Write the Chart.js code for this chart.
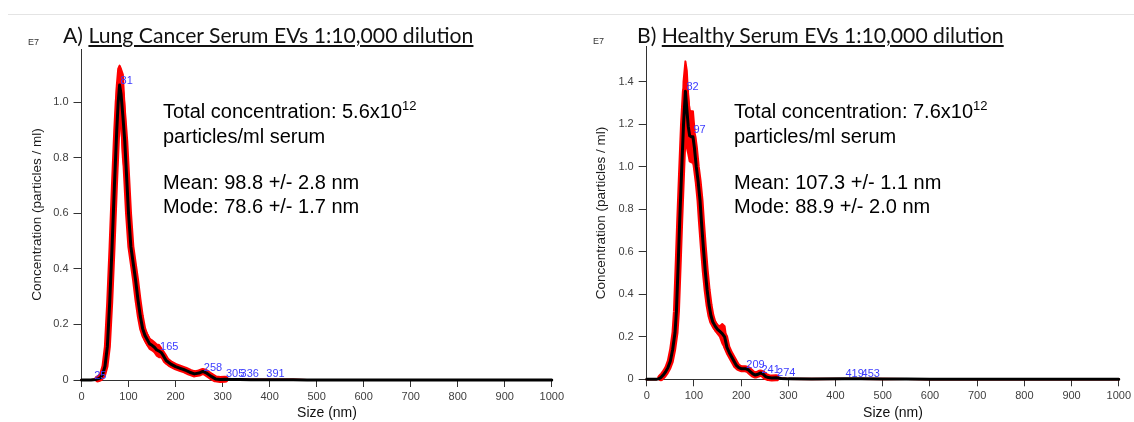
<!DOCTYPE html>
<html><head><meta charset="utf-8">
<script src="https://cdn.jsdelivr.net/npm/chart.js@4.4.1/dist/chart.umd.min.js"></script>
<style>
html,body{margin:0;padding:0;background:#fff;width:1134px;height:422px;overflow:hidden;position:relative;font-family:"Liberation Sans",Arial,sans-serif;}
.cv{position:absolute;top:0;width:567px;height:422px;}
.t{position:absolute;white-space:nowrap;color:#000;}
.ann{font-size:20px;line-height:20px;}
.ttl{font-family:Lato,"Liberation Sans",sans-serif;color:#111;line-height:1;}
.ttl span{text-decoration:underline;text-decoration-thickness:1.5px;text-underline-offset:2px;}
.e7{font-size:9px;color:#333;}
.xt{font-size:14px;color:#111;transform:translateX(-50%);}
sup{font-size:13px;vertical-align:0;position:relative;top:-8px;}
</style></head><body>
<div style="position:absolute;left:8px;top:14px;width:1126px;height:1px;background:#e4e4e4"></div>
<div class="cv" style="left:0"><canvas id="cA" width="567" height="422" style="width:567px;height:422px"></canvas></div>
<div class="cv" style="left:567px"><canvas id="cB" width="567" height="422" style="width:567px;height:422px"></canvas></div>

<div class="t ttl" id="tA" style="left:63px;top:25px">A) <span>Lung Cancer Serum EVs 1:10,000 dilution</span></div>
<div class="t ttl" id="tB" style="left:637px;top:25px">B) <span>Healthy Serum EVs 1:10,000 dilution</span></div>
<div class="t e7" style="left:28px;top:37px">E7</div>
<div class="t e7" style="left:593px;top:36px">E7</div>

<div class="t ann" style="left:163px;top:101px">Total concentration: 5.6x10<sup>12</sup></div>
<div class="t ann" style="left:163px;top:126px">particles/ml serum</div>
<div class="t ann" style="left:163px;top:172px">Mean: 98.8 +/- 2.8 nm</div>
<div class="t ann" style="left:163px;top:196px">Mode: 78.6 +/- 1.7 nm</div>

<div class="t ann" style="left:734px;top:101px">Total concentration: 7.6x10<sup>12</sup></div>
<div class="t ann" style="left:734px;top:126px">particles/ml serum</div>
<div class="t ann" style="left:734px;top:172px">Mean: 107.3 +/- 1.1 nm</div>
<div class="t ann" style="left:734px;top:196px">Mode: 88.9 +/- 2.0 nm</div>

<div class="t xt" style="left:327px;top:404px">Size (nm)</div>
<div class="t xt" style="left:893px;top:404px">Size (nm)</div>

<script>
// ---- Data (sizes in nm, concentrations in units of 1E7 particles/ml) ----
const xTicks = [0,100,200,300,400,500,600,700,800,900,1000];
const yTicksA = [0,0.2,0.4,0.6,0.8,1.0];
const yTicksB = [0,0.2,0.4,0.6,0.8,1.0,1.2,1.4];

const sizesA = [0,10,20,30,35,40,45,50,55,60,65,70,75,78,81,84,88,92,96,100,105,110,115,120,125,130,135,140,145,150,155,160,165,170,175,180,190,200,210,220,230,240,250,258,265,275,285,295,305,320,336,360,391,420,450,480,500,600,700,800,900,1000];
const meanA = [0,0,0,0.002,0.004,0.008,0.02,0.05,0.12,0.28,0.48,0.70,0.90,1.00,1.062,1.03,0.95,0.86,0.73,0.60,0.48,0.42,0.36,0.29,0.23,0.185,0.16,0.145,0.13,0.125,0.118,0.108,0.104,0.098,0.085,0.07,0.057,0.048,0.042,0.036,0.028,0.022,0.025,0.031,0.026,0.014,0.004,0.002,0.003,0.002,0.002,0.001,0.001,0.001,0.0005,0,0,0,0,0,0,0];
const errA = [0,0,0,0.001,0.002,0.003,0.005,0.01,0.02,0.03,0.05,0.09,0.16,0.12,0.07,0.09,0.15,0.11,0.07,0.05,0.035,0.03,0.03,0.025,0.025,0.022,0.02,0.02,0.018,0.018,0.018,0.02,0.022,0.015,0.012,0.01,0.008,0.007,0.006,0.006,0.005,0.005,0.005,0.006,0.005,0.004,0.003,0.002,0.002,0.001,0.001,0.001,0.001,0.001,0.001,0,0,0,0,0,0,0];
const peaksA = [25,81,165,258,305,336,391];
const peakYA = [0.004,1.066,0.108,0.0335,0.0097,0.0097,0.0097];
const yMaxA = 1.192;

const sizesB = [0,10,20,25,30,35,40,45,50,55,60,63,67,70,74,78,82,85,88,91,95,98,101,105,109,113,116,120,124,128,132,136,140,145,150,155,160,165,170,175,180,185,190,195,200,205,209,215,220,225,230,236,241,246,252,258,265,274,285,300,350,419,453,500,550,600,700,800,900,1000];
const meanB = [0,0,0,0.002,0.008,0.02,0.035,0.055,0.085,0.14,0.22,0.32,0.56,0.75,0.98,1.2,1.355,1.27,1.19,1.145,1.14,1.14,1.09,1.0,0.93,0.84,0.74,0.62,0.51,0.42,0.35,0.30,0.27,0.25,0.235,0.225,0.215,0.20,0.15,0.125,0.105,0.085,0.065,0.055,0.05,0.05,0.05,0.045,0.035,0.025,0.02,0.024,0.03,0.025,0.013,0.008,0.006,0.007,0.004,0.002,0.001,0.002,0.002,0.001,0.001,0,0,0,0,0];
const errB = [0,0,0,0.001,0.002,0.003,0.004,0.005,0.008,0.012,0.02,0.03,0.05,0.08,0.12,0.2,0.14,0.18,0.13,0.12,0.12,0.12,0.09,0.06,0.05,0.045,0.04,0.035,0.03,0.025,0.02,0.02,0.02,0.02,0.02,0.025,0.045,0.05,0.02,0.015,0.012,0.01,0.01,0.008,0.008,0.008,0.008,0.007,0.006,0.005,0.005,0.005,0.005,0.004,0.003,0.002,0.002,0.002,0.001,0.001,0.001,0.001,0.001,0.001,0,0,0,0,0,0];
const peaksB = [82,97,209,241,274,419,453];
const peakYB = [1.362,1.158,0.053,0.028,0.014,0.0094,0.0094];
const yMaxB = 1.564;

// fit title font size
(function(){
  const c = document.createElement('canvas').getContext('2d');
  c.font = '20px Lato';
  const w = c.measureText(document.getElementById('tA').textContent).width;
  const fs = (20 * 411 / w).toFixed(2) + 'px';
  document.getElementById('tA').style.fontSize = fs;
  document.getElementById('tB').style.fontSize = fs;
})();

const peakLabels = {
  id: 'peakLabels',
  afterDatasetsDraw(chart, args, opts) {
    const {ctx, scales: {x, y}} = chart;
    ctx.save();
    ctx.font = '11px "Liberation Sans", Arial, sans-serif';
    ctx.fillStyle = '#3c3cff';
    ctx.textAlign = 'left';
    ctx.textBaseline = 'alphabetic';
    opts.xs.forEach((v, i) => ctx.fillText(String(v), x.getPixelForValue(v) + 1, y.getPixelForValue(opts.ys[i])));
    ctx.restore();
  }
};

function datasets(sizes, mean, err) {
  const pts = sizes.map((x, i) => ({x, y: mean[i]}));
  const up = sizes.map((x, i) => ({x, y: mean[i] + err[i]}));
  const lo = sizes.map((x, i) => ({x, y: Math.max(0, mean[i] - err[i])}));
  const redMean = sizes.map((x, i) => ({x, y: mean[i]})).filter((p, i) => err[i] > 0.0015);
  const common = {pointRadius: 0, tension: 0, clip: 8, borderJoinStyle: 'round', borderCapStyle: 'round'};
  return [
    {...common, data: pts, borderColor: '#000', borderWidth: 3, fill: false, order: 0},
    {...common, data: redMean, borderColor: '#ff0000', borderWidth: 7, fill: false, order: 1},
    {...common, data: up, borderColor: '#ff0000', borderWidth: 2, backgroundColor: '#ff0000', fill: '+1', order: 2},
    {...common, data: lo, borderColor: '#ff0000', borderWidth: 2, fill: false, order: 3},
  ];
}

function makeChart(id, sizes, mean, err, yTicks, yMax, peaks, peakY, cfg) {
  return new Chart(document.getElementById(id), {
    type: 'line',
    data: {datasets: datasets(sizes, mean, err)},
    plugins: [peakLabels],
    options: {
      responsive: false,
      animation: false,
      events: [],
      layout: {padding: {left: 0, right: 14, top: cfg.top, bottom: 0}},
      plugins: {legend: {display: false}, tooltip: {enabled: false}, peakLabels: {xs: peaks, ys: peakY}},
      scales: {
        x: {
          type: 'linear', min: 0, max: 1000,
          afterBuildTicks: s => { s.ticks = xTicks.map(v => ({value: v})); },
          afterFit: s => { s.height = cfg.xH; },
          ticks: {color: '#404040', font: {size: 11, family: '"Liberation Sans", Arial'}, padding: 3, maxRotation: 0, autoSkip: false, callback: v => String(v)},
          grid: {display: true, drawOnChartArea: false, drawTicks: true, tickLength: 7, tickColor: '#333', tickWidth: 1},
          border: {display: true, color: '#333', width: 1}
        },
        y: {
          type: 'linear', min: 0, max: yMax,
          afterBuildTicks: s => { s.ticks = yTicks.map(v => ({value: v})); },
          afterFit: s => { s.width = cfg.yW; },
          ticks: {color: '#404040', font: {size: 11, family: '"Liberation Sans", Arial'}, padding: 5, autoSkip: false, callback: v => v === 0 ? '0' : v.toFixed(1)},
          grid: {display: true, drawOnChartArea: false, drawTicks: true, tickLength: 8, tickColor: '#333', tickWidth: 1},
          border: {display: true, color: '#333', width: 1},
          title: {display: true, text: 'Concentration (particles / ml)', color: '#1a1a1a', font: {size: 13.5, family: '"Liberation Sans", Arial'}, padding: {top: cfg.tPad, bottom: 0}}
        }
      }
    }
  });
}

makeChart('cA', sizesA, meanA, errA, yTicksA, yMaxA, peaksA, peakYA, {top: 49, xH: 42, yW: 81.5, tPad: 29.5});
makeChart('cB', sizesB, meanB, errB, yTicksB, yMaxB, peaksB, peakYB, {top: 46.7, xH: 42.7, yW: 79.7, tPad: 26.5});
</script>
</body></html>
